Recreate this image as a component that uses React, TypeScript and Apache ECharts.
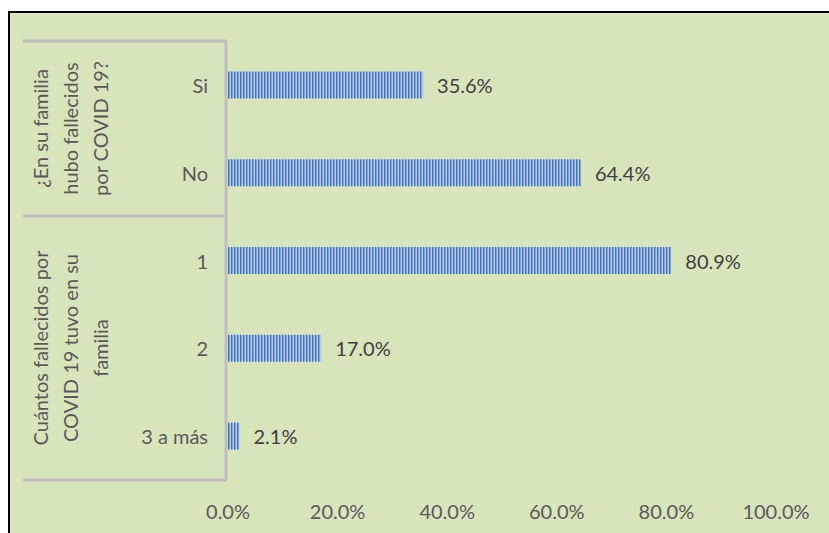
import React, { useEffect, useRef } from "react";
import * as echarts from "echarts";

const categories = ["Si", "No", "1", "2", "3 a más"];
const values = [35.6, 64.4, 80.9, 17.0, 2.1];
const groupLabels = [
  "¿En su familia\nhubo fallecidos\npor COVID 19?",
  "Cuántos fallecidos por\nCOVID 19 tuvo en su\nfamilia",
];
const xTicks = [0, 20, 40, 60, 80, 100];

function makePattern(): HTMLCanvasElement {
  const c = document.createElement("canvas");
  c.width = 3;
  c.height = 28;
  const ctx = c.getContext("2d")!;
  const cols = ["#4372b8", "#7fa3dc", "#b8cdec"];
  for (let i = 0; i < 3; i++) {
    ctx.fillStyle = cols[i];
    ctx.fillRect(i, 0, 1, 28);
  }
  return c;
}

export default function App() {
  const ref = useRef<HTMLDivElement>(null);
  useEffect(() => {
    document.body.style.margin = "0";
    const chart = echarts.init(ref.current!, null, { renderer: "svg" });
    const font = "Lato, 'Noto Sans', sans-serif";
    const gray = "#bfbfbf";
    const top = 41, sep = 216, bottom = 480, leftX = 23, axisX = 226;
    chart.setOption({
      animation: false,
      backgroundColor: "#ffffff",
      grid: { left: 228, right: 53, top: top, bottom: 533 - bottom, containLabel: false },
      xAxis: {
        type: "value",
        min: 0,
        max: 100,
        interval: 20,
        splitLine: { show: false },
        axisLine: { show: false },
        axisTick: { show: false },
        axisLabel: {
          formatter: (v: number) => (xTicks.includes(v) ? v.toFixed(1) + "%" : ""),
          color: "#595959",
          fontFamily: font,
          fontSize: 20,
          margin: 21,
        },
      },
      yAxis: {
        type: "category",
        data: categories,
        inverse: true,
        axisLine: { show: false },
        axisTick: { show: false },
        axisLabel: { color: "#595959", fontFamily: font, fontSize: 20, margin: 20 },
      },
      graphic: [
        {
          type: "rect",
          z: -10,
          shape: { x: 9, y: 12, width: 830, height: 540 },
          style: { fill: "#d8e4bc", stroke: "#000000", lineWidth: 2 },
        },
        { type: "line", shape: { x1: leftX, y1: top, x2: axisX + 1, y2: top }, style: { stroke: gray, lineWidth: 3 } },
        { type: "line", shape: { x1: leftX, y1: sep, x2: axisX + 1, y2: sep }, style: { stroke: gray, lineWidth: 3 } },
        { type: "line", shape: { x1: leftX, y1: bottom, x2: axisX + 1, y2: bottom }, style: { stroke: gray, lineWidth: 3 } },
        { type: "line", shape: { x1: axisX, y1: top, x2: axisX, y2: bottom }, style: { stroke: gray, lineWidth: 3 } },
        {
          type: "text",
          x: 70,
          y: (top + sep) / 2,
          rotation: Math.PI / 2,
          style: {
            text: groupLabels[0],
            fill: "#595959",
            font: `20px ${font}`,
            align: "center",
            verticalAlign: "middle",
            lineHeight: 30,
          },
        },
        {
          type: "text",
          x: 70,
          y: (sep + bottom) / 2,
          rotation: Math.PI / 2,
          style: {
            text: groupLabels[1],
            fill: "#595959",
            font: `20px ${font}`,
            align: "center",
            verticalAlign: "middle",
            lineHeight: 30,
          },
        },
      ],
      series: [
        {
          type: "bar",
          data: values,
          barWidth: 27,
          itemStyle: { color: { image: makePattern(), repeat: "repeat" } as any },
          label: {
            show: true,
            position: "right",
            distance: 14,
            formatter: (p: any) => p.value.toFixed(1) + "%",
            color: "#404040",
            fontFamily: font,
            fontSize: 20,
          },
        },
      ],
    });
    return () => chart.dispose();
  }, []);
  return <div ref={ref} style={{ width: 829, height: 533 }} />;
}
